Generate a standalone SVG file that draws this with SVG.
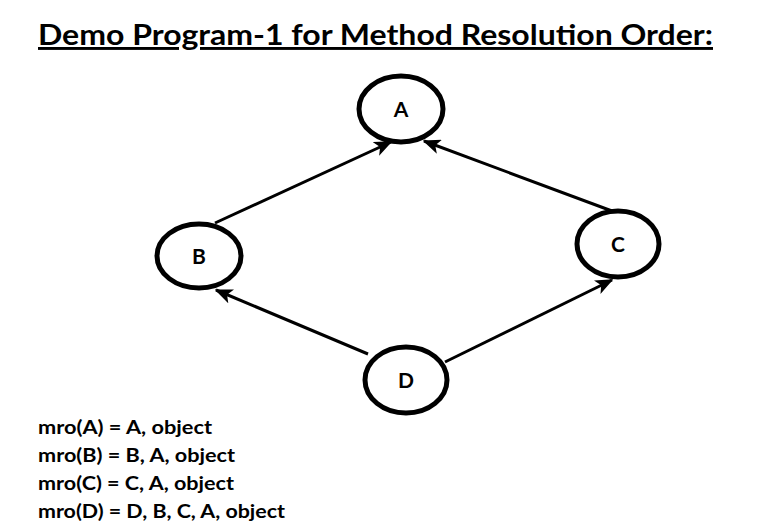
<svg xmlns="http://www.w3.org/2000/svg" width="761" height="531" viewBox="0 0 761 531">
<defs>
<style>
.node ellipse{fill:#fff;stroke:#000;stroke-width:5}
.node text{font-family:Lato,"Open Sans","Liberation Sans",sans-serif;font-weight:bold;font-size:21px;text-anchor:middle;fill:#000}
.edge{stroke:#000;stroke-width:3;fill:none;marker-end:url(#arr)}
.title{font-family:Lato,"Open Sans","Liberation Sans",sans-serif;font-weight:bold;font-size:29px;fill:#000;text-decoration:underline}
.mro{font-family:Lato,"Open Sans","Liberation Sans",sans-serif;font-weight:bold;font-size:19px;fill:#000}
</style>
<marker id="arr" viewBox="0 0 12 10" refX="11" refY="5" markerWidth="6" markerHeight="5" markerUnits="strokeWidth" orient="auto">
<path d="M0,0 L12,5 L0,10 L3,5 Z" fill="#000"/>
</marker>
</defs>
<rect width="761" height="531" fill="#fff"/>
<text class="title" x="38" y="45" textLength="675" lengthAdjust="spacingAndGlyphs">Demo Program-1 for Method Resolution Order:</text>
<g id="connectors">
<line class="edge" x1="215" y1="223" x2="391" y2="142"/>
<line class="edge" x1="612" y1="211" x2="424" y2="141"/>
<line class="edge" x1="368" y1="354" x2="216" y2="290"/>
<line class="edge" x1="445" y1="362" x2="612" y2="280"/>
</g>
<g id="node-A" class="node"><ellipse cx="401" cy="109" rx="42" ry="33"/><text x="401" y="117">A</text></g>
<g id="node-B" class="node"><ellipse cx="199" cy="256" rx="42" ry="32"/><text x="199" y="264">B</text></g>
<g id="node-C" class="node"><ellipse cx="618" cy="244" rx="41" ry="33"/><text x="618" y="252">C</text></g>
<g id="node-D" class="node"><ellipse cx="406" cy="380" rx="41" ry="33"/><text x="406" y="388">D</text></g>
<g id="mro-text">
<text class="mro" x="38" y="434" textLength="174" lengthAdjust="spacingAndGlyphs">mro(A) = A, object</text>
<text class="mro" x="38" y="462" textLength="197" lengthAdjust="spacingAndGlyphs">mro(B) = B, A, object</text>
<text class="mro" x="38" y="490" textLength="196" lengthAdjust="spacingAndGlyphs">mro(C) = C, A, object</text>
<text class="mro" x="38" y="518" textLength="247" lengthAdjust="spacingAndGlyphs">mro(D) = D, B, C, A, object</text>
</g>
</svg>
